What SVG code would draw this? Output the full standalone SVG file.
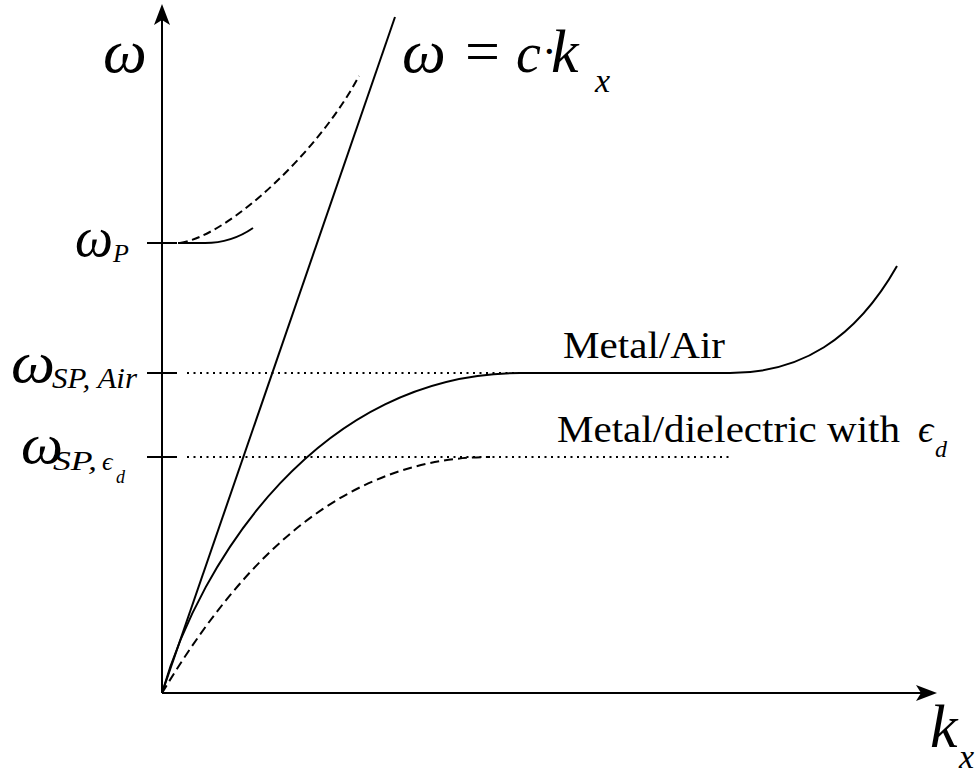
<svg xmlns="http://www.w3.org/2000/svg" width="980" height="774" viewBox="0 0 980 774">
<style>
.ln{fill:none;stroke:#000;stroke-width:2}
.dash{fill:none;stroke:#000;stroke-width:2;stroke-dasharray:9 5}
.dash2{fill:none;stroke:#000;stroke-width:2;stroke-dasharray:8 4.5}
.dot{fill:none;stroke:#000;stroke-width:2;stroke-dasharray:2 4.5}
.m{font-family:"Liberation Serif","Times New Roman",serif;font-style:italic;fill:#000}
.t{font-family:"Liberation Serif","Times New Roman",serif;fill:#000}
</style>
<rect width="980" height="774" fill="#fff"/>
<g id="axes">
<path class="ln" d="M162,693 V20"/>
<path d="M162,4 L170,25 L162,20 L154,25 Z" fill="#000"/>
<path class="ln" d="M162,693 H922"/>
<path d="M937,693 L916,685 L921,693 L916,701 Z" fill="#000"/>
<path class="ln" d="M147,243 H177 M147,373 H177 M147,457 H177"/>
</g>
<g id="connectors">
<path class="ln" d="M162,693 L395,17"/>
<path class="dot" d="M187,373 H730 M187,457 H730"/>
<path class="ln" d="M162,693 C200,560 320,373 520,373 L730,373 C800,373 855,340 897,266"/>
<path class="dash" d="M162,693 C230,580 330,457 490,457"/>
<path class="ln" d="M178,243 L205,243 C225,243 240,237 253,228"/>
<path class="dash2" d="M180,243 C230,235 320,150 359,76"/>
</g>
<g id="labels">
<text class="m" x="103" y="72" font-size="62">ω</text>
<text class="m" x="402" y="72" font-size="62">ω</text>
<text class="t" x="465" y="72" font-size="62">=</text>
<text class="m" x="516" y="72" font-size="56">c</text>
<text class="t" x="542" y="66" font-size="44">·</text>
<text class="m" x="551" y="72" font-size="62">k</text>
<text class="m" x="595" y="92" font-size="34">x</text>
<text class="m" x="75" y="256" font-size="58" textLength="38" lengthAdjust="spacingAndGlyphs">ω</text>
<text class="m" x="113" y="262" font-size="26">P</text>
<text class="m" x="11" y="382" font-size="60" textLength="44" lengthAdjust="spacingAndGlyphs">ω</text>
<text class="m" x="52" y="388" font-size="30" textLength="85" lengthAdjust="spacingAndGlyphs">SP, Air</text>
<text class="m" x="21" y="463" font-size="58" textLength="42" lengthAdjust="spacingAndGlyphs">ω</text>
<text class="m" x="53" y="470" font-size="28" textLength="44" lengthAdjust="spacingAndGlyphs">SP,</text>
<text class="m" x="102" y="470" font-size="26">ϵ</text>
<text class="m" x="116" y="483" font-size="18">d</text>
<text class="t" x="563" y="358" font-size="37" textLength="162" lengthAdjust="spacingAndGlyphs">Metal/Air</text>
<text class="t" x="557" y="442" font-size="38" textLength="343" lengthAdjust="spacingAndGlyphs">Metal/dielectric with</text>
<text class="m" x="918" y="442" font-size="38">ϵ</text>
<text class="m" x="935" y="457" font-size="24">d</text>
<text class="m" x="930" y="747" font-size="62">k</text>
<text class="m" x="959" y="768" font-size="34">x</text>
</g>
</svg>
